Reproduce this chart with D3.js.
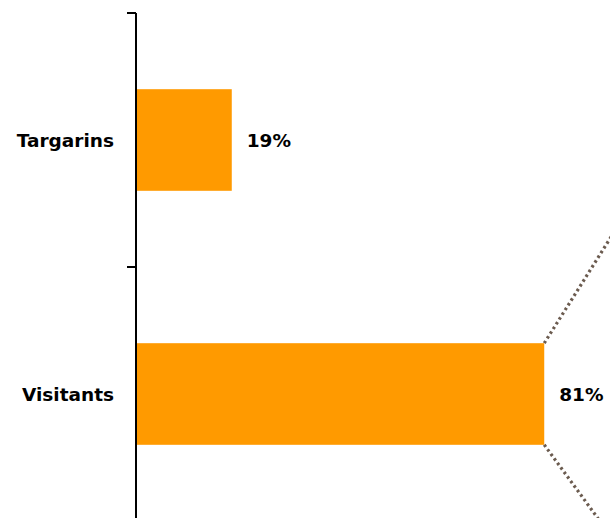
<!DOCTYPE html>
<html>
<head>
<meta charset="utf-8">
<script src="https://cdn.jsdelivr.net/npm/d3@7"></script>
<style>
  body { margin: 0; background: #fff; }
  text { font-family: "DejaVu Sans", sans-serif; font-weight: bold; font-size: 18.5px; fill: #000; }
</style>
</head>
<body>
<svg id="chart" width="610" height="518"></svg>
<script>
// data
var categories = ['Targarins', 'Visitants']
var values = [19, 81]

var svg = d3.select('#chart')
var width = 610
var top0 = 13, bottom0 = 521
var left = 136

var yScale = d3.scaleBand()
  .domain(categories)
  .range([top0, bottom0])
  .paddingInner(0)
  .paddingOuter(0)

var xScale = d3.scaleLinear()
  .domain([0, 100])
  .range([left, left + 504])

var barH = yScale.bandwidth() * 0.4

// connector lines toward the pie (sits off to the right)
var last = categories.length - 1
var cx = xScale(values[last])
var cyTop = yScale(categories[last]) + (yScale.bandwidth() - barH) / 2
var cyBot = cyTop + barH
var conn = svg.append('g').attr('class', 'connectors')
conn.append('line')
  .attr('x1', cx).attr('y1', cyTop)
  .attr('x2', cx + 160).attr('y2', cyTop - 160 * 1.59)
conn.append('line')
  .attr('x1', cx).attr('y1', cyBot)
  .attr('x2', cx + 160).attr('y2', cyBot + 160 * 1.37)
conn.selectAll('line')
  .style('stroke', '#6b5b4f')
  .style('stroke-width', 3.2)
  .style('stroke-dasharray', '2.6,3')

// bars
svg.append('g').selectAll('rect')
  .data(values)
  .enter().append('rect')
  .attr('x', xScale(0))
  .attr('y', function (d, i) { return yScale(categories[i]) + (yScale.bandwidth() - barH) / 2 })
  .attr('width', function (d) { return xScale(d) - xScale(0) })
  .attr('height', barH)
  .attr('fill', '#ff9a00')

// value labels
svg.append('g').selectAll('text')
  .data(values)
  .enter().append('text')
  .attr('x', function (d) { return xScale(d) + 15 })
  .attr('y', function (d, i) { return yScale(categories[i]) + yScale.bandwidth() / 2 })
  .attr('dy', '0.36em')
  .text(function (d) { return d + '%' })

// axis: ticks on band edges
var axis = svg.append('g').attr('class', 'axis')
axis.append('line')
  .attr('x1', left).attr('x2', left)
  .attr('y1', top0).attr('y2', bottom0)
  .style('stroke', '#000').style('stroke-width', 2)
axis.selectAll('line.tick')
  .data(categories)
  .enter().append('line')
  .attr('class', 'tick')
  .attr('x1', left - 9).attr('x2', left)
  .attr('y1', function (d) { return yScale(d) })
  .attr('y2', function (d) { return yScale(d) })
  .style('stroke', '#000').style('stroke-width', 2)
axis.selectAll('text')
  .data(categories)
  .enter().append('text')
  .attr('text-anchor', 'end')
  .attr('x', left - 22)
  .attr('y', function (d) { return yScale(d) + yScale.bandwidth() / 2 })
  .attr('dy', '0.36em')
  .text(function (d) { return d })
</script>
</body>
</html>
